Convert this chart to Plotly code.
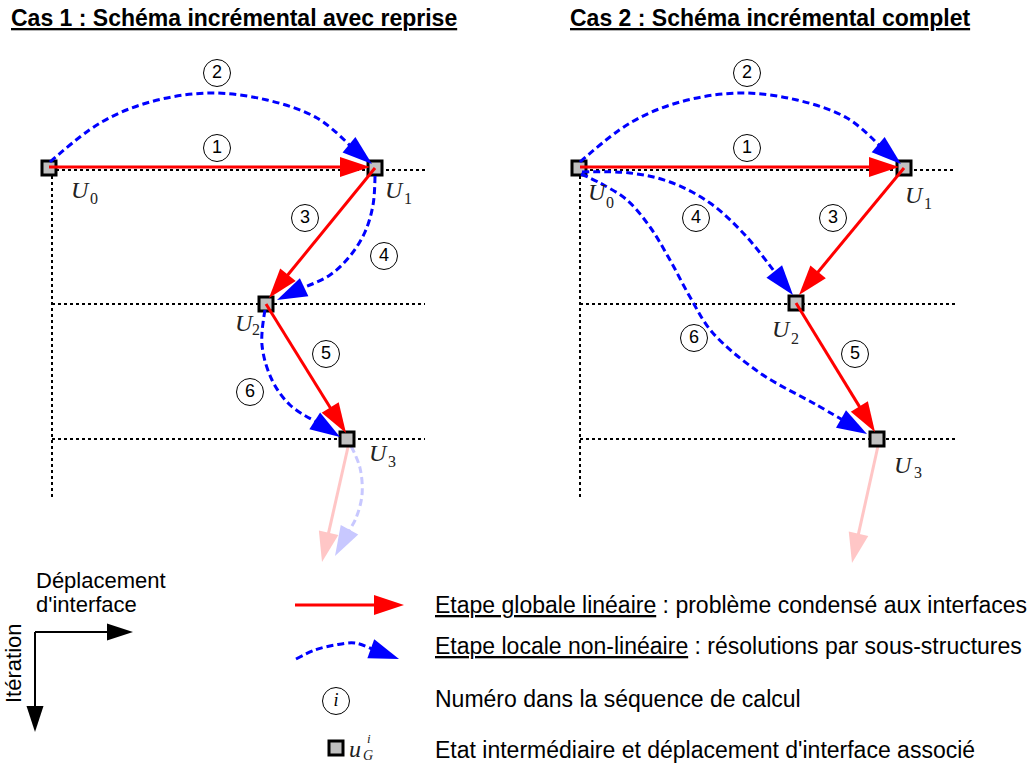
import numpy as np
import plotly.graph_objects as go

SANS = "Liberation Sans, Arial, sans-serif"
SERIF = "Liberation Serif, Times New Roman, serif"
RED = "#FF0000"
BLUE = "#0000FF"
FADED_RED = "#FFC6C6"
FADED_BLUE = "#C8C8FF"
GREY = "#C0C0C0"

# ---------------- data (pixel positions of the diagram) ----------------
titles = ["Cas 1 : Schéma incrémental avec reprise", "Cas 2 : Schéma incrémental complet"]
title_x = [234, 770]
title_y = [18, 18]

# states U0..U3 for each case
case1_x = [49, 375, 266, 347]
case1_y = [168, 168, 304, 439]
case2_x = [579, 904, 796, 877]
case2_y = [168, 168, 303, 439]
state_sub = ["0", "1", "2", "3"]

# label positions of U_i (U left / centre y, subscript left / centre y)
case1_U_lx = [69, 383, 233, 367]
case1_U_cy = [190, 190, 323, 453]
case1_sub_lx = [88, 402, 250, 386]
case1_sub_cy = [198, 198, 329, 461]
case2_U_lx = [586, 903, 770, 892]
case2_U_cy = [192, 195, 329, 465]
case2_sub_lx = [604, 922, 789, 912]
case2_sub_cy = [202, 203, 338, 472]

# dotted guide lines
guide_h_y = [170, 304, 439]
guide_x0 = [52, 580]
guide_x1 = [425, 955]
guide_v_y0 = 176
guide_v_y1 = 500

# red (global, linear) steps: start -> tip
red1_start = [(49, 167), (375, 168), (266, 304)]
red1_tip = [(370, 167), (269, 298), (346, 433)]
red2_start = [(580, 167), (904, 168), (796, 303)]
red2_tip = [(899, 167), (799, 295), (875, 432)]

# blue (local, non-linear) steps: way points + tip
blue1_paths = [
    [(50, 162), (100, 123), (150, 102), (210, 93), (267, 100), (317, 118)],
    [(375, 176), (373, 205), (365, 232), (350, 256), (330, 275)],
    [(265, 310), (262, 345), (272, 380), (290, 405)],
]
blue1_tips = [(372, 164), (277, 300), (340, 437)]
blue2_paths = [
    [(580, 162), (630, 123), (680, 102), (740, 93), (797, 100), (847, 118)],
    [(582, 172), (630, 173), (670, 182), (710, 203), (745, 235)],
    [(581, 174), (600, 183), (627, 200), (650, 227), (670, 260), (690, 297),
     (712, 332), (760, 373), (815, 404)],
]
blue2_tips = [(901, 164), (793, 295), (867, 434)]

# faded "next" steps
faded_red_start = [(348, 447), (878, 446)]
faded_red_tip = [(322, 562), (852, 563)]
faded_blue_path = [(351, 446), (360, 468), (362, 495), (356, 518)]
faded_blue_tip = (335, 556)

# circled step numbers
circ1_lbl = ["1", "2", "3", "4", "5", "6"]
circ1_x = [217, 217, 305, 384, 326, 250]
circ1_y = [148, 73, 218, 256, 354, 392]
circ2_lbl = ["1", "2", "3", "4", "5", "6"]
circ2_x = [747, 747, 833, 696, 855, 694]
circ2_y = [148, 73, 218, 218, 354, 338]

# legend
legend_texts = [
    "<u>Etape globale linéaire</u> : problème condensé aux interfaces",
    "<u>Etape locale non-linéaire</u> : résolutions par sous-structures",
    "Numéro dans la séquence de calcul",
    "Etat intermédiaire et déplacement d'interface associé",
]
legend_text_x = 433
legend_text_y = [605, 646, 699, 750]
leg_red_start = (295, 605)
leg_red_tip = (404, 605)
leg_blue_path = [(296, 659), (315, 650), (335, 645), (355, 643)]
leg_blue_tip = (399, 659)
leg_circle = (336, 701)
leg_square = (336, 748)
axis_origin = (35, 632)
axis_x_tip = (133, 632)
axis_y_tip = (35, 732)

# ---------------- drawing helpers ----------------
fig = go.Figure()


def unit(a, b):
    dx, dy = b[0] - a[0], b[1] - a[1]
    n = np.hypot(dx, dy)
    return dx / n, dy / n


def add_head(tip, frm, color, L=30, W=20):
    dx, dy = unit(frm, tip)
    bx, by = tip[0] - L * dx, tip[1] - L * dy
    px, py = -dy, dx
    xs = [tip[0], bx + W / 2 * px, bx - W / 2 * px, tip[0]]
    ys = [tip[1], by + W / 2 * py, by - W / 2 * py, tip[1]]
    fig.add_trace(go.Scatter(x=xs, y=ys, mode="lines", fill="toself",
                             fillcolor=color, line=dict(width=0, color=color),
                             hoverinfo="skip"))
    return bx + 2 * dx, by + 2 * dy


def straight_arrow(start, tip, color, width=3, L=30, W=20):
    bx, by = add_head(tip, start, color, L, W)
    fig.add_trace(go.Scatter(x=[start[0], bx], y=[start[1], by], mode="lines",
                             line=dict(color=color, width=width), hoverinfo="skip"))


def curved_arrow(points, tip, color, width=3, dash="7px,4px", L=30, W=20):
    bx, by = add_head(tip, points[-1], color, L, W)
    xs = [p[0] for p in points] + [bx]
    ys = [p[1] for p in points] + [by]
    fig.add_trace(go.Scatter(x=xs, y=ys, mode="lines",
                             line=dict(color=color, width=width, dash=dash,
                                       shape="spline", smoothing=1),
                             hoverinfo="skip"))


def dotted(x0, x1, y0, y1):
    fig.add_trace(go.Scatter(x=[x0, x1], y=[y0, y1], mode="lines",
                             line=dict(color="black", width=2, dash="3px,3px"),
                             hoverinfo="skip"))


def text(x, y, s, size, family=SANS, xanchor="left", color="black", angle=0):
    fig.add_annotation(x=x, y=y, text=s, showarrow=False, xanchor=xanchor,
                       yanchor="middle", textangle=angle,
                       font=dict(size=size, family=family, color=color))


# ---------------- guides ----------------
for x0, x1 in zip(guide_x0, guide_x1):
    for gy in guide_h_y:
        dotted(x0 if gy != guide_h_y[0] else x0 + 4, x1, gy, gy)
    dotted(x0, x0, guide_v_y0, guide_v_y1)

# faded next steps (drawn under everything else)
for s, t in zip(faded_red_start, faded_red_tip):
    straight_arrow(s, t, FADED_RED, width=3)
curved_arrow(faded_blue_path, faded_blue_tip, FADED_BLUE)

# states
for xs, ys in [(case1_x, case1_y), (case2_x, case2_y)]:
    fig.add_trace(go.Scatter(x=xs, y=ys, mode="markers",
                             marker=dict(symbol="square", size=14, color=GREY,
                                         line=dict(color="black", width=3)),
                             hoverinfo="skip"))

# steps
for s, t in zip(red1_start + red2_start, red1_tip + red2_tip):
    straight_arrow(s, t, RED)
for p, t in zip(blue1_paths + blue2_paths, blue1_tips + blue2_tips):
    curved_arrow(p, t, BLUE)

# circled numbers
for lbl, xs, ys in [(circ1_lbl, circ1_x, circ1_y), (circ2_lbl, circ2_x, circ2_y)]:
    fig.add_trace(go.Scatter(x=xs, y=ys, mode="markers+text", text=lbl,
                             textposition="middle center",
                             textfont=dict(size=18, family=SANS, color="black"),
                             marker=dict(symbol="circle", size=27, color="white",
                                         line=dict(color="black", width=1)),
                             hoverinfo="skip"))

# U labels
for ulx, ucy, slx, scy in [(case1_U_lx, case1_U_cy, case1_sub_lx, case1_sub_cy),
                           (case2_U_lx, case2_U_cy, case2_sub_lx, case2_sub_cy)]:
    for i, sub in enumerate(state_sub):
        text(ulx[i], ucy[i], "<i>U</i>", 24, SERIF, color="#222222")
        text(slx[i], scy[i], sub, 16, SERIF, color="#222222")

# titles
for t, tx, ty in zip(titles, title_x, title_y):
    text(tx, ty, "<b><u>" + t + "</u></b>", 23, SANS, xanchor="center")

# ---------------- legend ----------------
text(34, 580, "Déplacement", 22)
text(34, 604, "d'interface", 22)
text(13, 663, "Itération", 22, angle=-90, xanchor="center")
straight_arrow(axis_origin, axis_x_tip, "black", width=2, L=26, W=17)
straight_arrow(axis_origin, axis_y_tip, "black", width=2, L=26, W=17)

straight_arrow(leg_red_start, leg_red_tip, RED)
curved_arrow(leg_blue_path, leg_blue_tip, BLUE)
fig.add_trace(go.Scatter(x=[leg_circle[0]], y=[leg_circle[1]], mode="markers+text",
                         text=["<i>i</i>"], textposition="middle center",
                         textfont=dict(size=18, family=SERIF, color="black"),
                         marker=dict(symbol="circle", size=27, color="white",
                                     line=dict(color="black", width=1)),
                         hoverinfo="skip"))
fig.add_trace(go.Scatter(x=[leg_square[0]], y=[leg_square[1]], mode="markers",
                         marker=dict(symbol="square", size=14, color=GREY,
                                     line=dict(color="black", width=3)),
                         hoverinfo="skip"))
text(347, 749, "<i>u</i>", 24, SERIF, color="#222222")
text(365, 738, "<i>i</i>", 13, SERIF, color="#222222")
text(361, 755, "<i>G</i>", 14, SERIF, color="#222222")

for s, ly in zip(legend_texts, legend_text_y):
    text(legend_text_x, ly, s, 23)

fig.update_layout(
    width=1030, height=765, margin=dict(l=0, r=0, t=0, b=0),
    paper_bgcolor="white", plot_bgcolor="white", showlegend=False,
    xaxis=dict(range=[0, 1030], visible=False, fixedrange=True),
    yaxis=dict(range=[765, 0], visible=False, fixedrange=True),
)
fig.write_html("out.html", config={"displayModeBar": False},
               post_script="document.body.style.margin='0px';"
                           "document.body.style.overflow='hidden';")
